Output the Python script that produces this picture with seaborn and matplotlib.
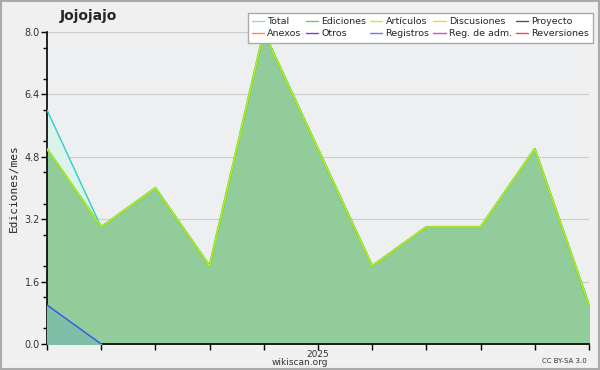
import pandas as pd
import seaborn as sns
import matplotlib.pyplot as plt
from matplotlib.lines import Line2D

months = pd.date_range("2024-08-01", periods=11, freq="MS")
total = [6, 3, 4, 2, 8, 5, 2, 3, 3, 5, 1]
ediciones = [5, 3, 4, 2, 8, 5, 2, 3, 3, 5, 1]
articulos = [5, 3, 4, 2, 8, 5, 2, 3, 3, 5, 1]
registros = [1, 0]

legend_names = ["Total", "Ediciones", "Artículos", "Discusiones", "Proyecto",
                "Anexos", "Otros", "Registros", "Reg. de adm.", "Reversiones"]
legend_colors = ["#88e0e0", "#66cc77", "#ccee33", "#ffcc33", "#555555",
                 "#ff8844", "#8833dd", "#6677ff", "#dd44ee", "#ff4444"]

sns.set_style("ticks")
plt.rcParams["font.family"] = ["DejaVu Sans"]

fig = plt.figure(figsize=(6, 3.7), dpi=100, facecolor="#f0f0f0")
fig.patches.append(plt.Rectangle((0.002, 0.003), 0.996, 0.994, transform=fig.transFigure,
                                 fill=False, edgecolor="#aaaaaa", lw=1.5))
ax = fig.add_axes([0.0783, 0.0703, 0.9033, 0.8432])
ax.set_facecolor("#eeeff1")

x = list(range(len(months)))
ax.fill_between(x, total, color="#dcf3ec", zorder=1)
ax.fill_between(x, ediciones, color="#92cc9a", zorder=2)
ax.fill_between(x[:2], registros, color="#7fbfa8", zorder=3)

df = pd.DataFrame({"x": x, "total": total, "ediciones": ediciones, "articulos": articulos})
sns.lineplot(data=df, x="x", y="total", color="#33cccc", lw=1, ax=ax, zorder=4)
sns.lineplot(data=df, x="x", y="ediciones", color="#66cc44", lw=1.6, ax=ax, zorder=5)
sns.lineplot(data=df, x="x", y="articulos", color="#bbee22", lw=1, ax=ax, zorder=6)
sns.lineplot(x=x[:2], y=registros, color="#3355ee", lw=1, ax=ax, zorder=7)

ax.set_xlim(0, len(months) - 1)
ax.set_ylim(0, 8)
ax.set_yticks([0, 1.6, 3.2, 4.8, 6.4, 8.0])
ax.set_yticklabels(["0.0", "1.6", "3.2", "4.8", "6.4", "8.0"])
ax.set_yticks([0.4 + 0.8 * i for i in range(10)], minor=True)
ax.set_xticks(x)
ax.set_xticklabels(["2025" if m.month == 1 else "" for m in months])
ax.grid(axis="y", color="#cccccc", lw=0.8, zorder=0)
ax.set_axisbelow(True)
for s in ["top", "right"]:
    ax.spines[s].set_visible(False)
for s in ["left", "bottom"]:
    ax.spines[s].set_color("black")
    ax.spines[s].set_linewidth(1.2)
ax.tick_params(axis="both", which="major", direction="out", length=4, width=1,
               labelsize=7, color="black", pad=1, labelcolor="#333333",
               left=True, bottom=True)
ax.tick_params(axis="x", which="major", pad=0, labelsize=6.5)
ax.tick_params(axis="y", which="minor", direction="out", length=3, width=1,
               color="black", left=True)
ax.set_xlabel("")
ax.set_ylabel("Ediciones/mes", fontsize=8, family="DejaVu Sans Mono", labelpad=4)

fig.text(0.147, 0.958, "Jojojajo", fontsize=10, fontweight="bold", ha="center", va="center")
fig.text(0.5, 0.019, "wikiscan.org", fontsize=6.5, ha="center", va="center", color="#333333")
fig.text(0.978, 0.025, "CC BY-SA 3.0", fontsize=5, ha="right", va="center", color="#333333")

order = [0, 5, 1, 6, 2, 7, 3, 8, 4, 9]
handles = [Line2D([0], [0], color=legend_colors[i], lw=1) for i in order]
labels = [legend_names[i] for i in order]
fig.legend(handles, labels, ncol=5, loc="upper right", bbox_to_anchor=(0.997, 0.978),
           fontsize=6.8, frameon=True, fancybox=False, edgecolor="#aaaaaa",
           handlelength=1.3, handletextpad=0.35, columnspacing=0.4, labelspacing=0.35,
           borderpad=0.45, framealpha=1)

fig.savefig("out.png", dpi=100, facecolor=fig.get_facecolor())
